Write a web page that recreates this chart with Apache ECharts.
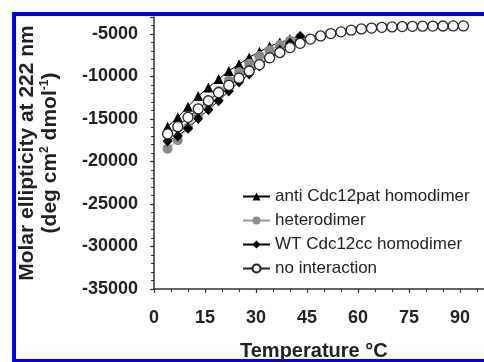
<!DOCTYPE html>
<html>
<head>
<meta charset="utf-8">
<script src="https://cdn.jsdelivr.net/npm/echarts@6/dist/echarts.min.js"></script>
<style>
  html, body { margin: 0; padding: 0; background: #fff; }
  #chart { width: 484px; height: 362px; }
</style>
</head>
<body>
<div id="chart"></div>
<script>
// temperatures (°C), one point every 3 degrees
const temps = [4, 7, 10, 13, 16, 19, 22, 25, 28, 31, 34, 37, 40, 43, 46, 49, 52, 55, 58, 61, 64, 67, 70, 73, 76, 79, 82, 85, 88, 91];

// molar ellipticity values
const antiPat = [-15900, -14800, -13550, -12300, -11300, -10300, -9350, -8550, -7750, -7100, -6450, -6000, -5600, -5250];
const hetero = [-18500, -17500, -16000, -14500, -13100, -11700, -10500, -9500, -8500, -7600, -6900, -6300, -5800, -5400];
const wtCc = [-17600, -17000, -16100, -14950, -13900, -12850, -11700, -10650, -9700, -8750, -7700, -6900, -6100, -5300];
const noInteraction = [-16750, -15900, -14800, -13800, -12850, -11900, -11050, -10200, -9350, -8600, -7800, -7180, -6600, -6100, -5600,
  -5230, -4950, -4750, -4550, -4400, -4300, -4220, -4170, -4130, -4100, -4080, -4070, -4060, -4050, -4050];

const seriesNames = ['anti Cdc12pat homodimer', 'heterodimer', 'WT Cdc12cc homodimer', 'no interaction'];

const pairs = (vals) => vals.map((v, i) => [temps[i], v]);

const font = 'Liberation Sans, Arial, sans-serif';
const ink = '#222';

const chart = echarts.init(document.getElementById('chart'), null, { renderer: 'canvas' });

chart.setOption({
  animation: false,
  backgroundColor: '#fff',
  grid: { left: 154, top: 17, bottom: 73, right: -27, containLabel: false, outerBoundsMode: 'none' },
  xAxis: {
    type: 'value',
    min: 0,
    max: 105,
    interval: 15,
    axisLine: { lineStyle: { color: '#333', width: 1.5 } },
    axisTick: { show: true, length: 4, lineStyle: { color: '#333', width: 1.2 } },
    minorTick: { show: true, splitNumber: 3, length: 3, lineStyle: { color: '#333', width: 1 } },
    splitLine: { show: false },
    axisLabel: {
      margin: 20, fontSize: 18, fontWeight: 'bold', color: ink, fontFamily: font,
      formatter: (v) => (v > 90 ? '' : String(v))
    }
  },
  yAxis: {
    type: 'value',
    min: -35000,
    max: -3000,
    interval: 5000,
    axisLine: { show: true, lineStyle: { color: '#333', width: 1.5 } },
    axisTick: { show: true, length: 4, lineStyle: { color: '#333', width: 1.2 } },
    minorTick: { show: true, splitNumber: 5, length: 3, lineStyle: { color: '#333', width: 1 } },
    splitLine: { show: false },
    axisLabel: {
      margin: 16, fontSize: 18, fontWeight: 'bold', color: ink, fontFamily: font, showMaxLabel: false,
      formatter: (v) => String(v)
    },
    name: 'Molar ellipticity at 222 nm\n(deg cm{s|2} dmol{s|-1})',
    nameLocation: 'middle',
    nameGap: 92,
    nameTextStyle: {
      fontSize: 21, fontWeight: 'bold', color: ink, fontFamily: font, lineHeight: 23,
      rich: { s: { fontSize: 12, fontWeight: 'bold', color: ink, fontFamily: font, verticalAlign: 'top', lineHeight: 23 } }
    }
  },
  legend: {
    orient: 'vertical',
    left: 242,
    top: 188,
    padding: 0,
    itemWidth: 27,
    itemHeight: 10,
    itemGap: 7,
    textStyle: { fontSize: 17, color: ink, fontFamily: font, lineHeight: 17 },
    data: seriesNames
  },
  graphic: [
    { type: 'rect', shape: { x: 12, y: 12, width: 4, height: 350 }, style: { fill: '#0000f0' } },
    { type: 'rect', shape: { x: 12, y: 12, width: 472, height: 4 }, style: { fill: '#0000f0' } },
    { type: 'rect', shape: { x: 12, y: 359, width: 472, height: 3 }, style: { fill: '#0000f0' } },
    {
      type: 'text', left: 240, top: 341,
      style: { text: 'Temperature °C', fontSize: 20, fontWeight: 'bold', fill: ink, fontFamily: font }
    }
  ],
  series: [
    {
      name: seriesNames[0], type: 'line', data: pairs(antiPat),
      symbol: 'triangle', symbolSize: 10,
      itemStyle: { color: '#000' }, lineStyle: { color: '#000', width: 1 }
    },
    {
      name: seriesNames[1], type: 'line', data: pairs(hetero),
      symbol: 'circle', symbolSize: 10,
      itemStyle: { color: '#8a8a8a' }, lineStyle: { color: '#999', width: 1 }
    },
    {
      name: seriesNames[2], type: 'line', data: pairs(wtCc),
      symbol: 'diamond', symbolSize: [10, 11],
      itemStyle: { color: '#000' }, lineStyle: { color: '#000', width: 1 }
    },
    {
      name: seriesNames[3], type: 'line', data: pairs(noInteraction),
      symbol: 'circle', symbolSize: 10,
      itemStyle: { color: '#fff', borderColor: '#222', borderWidth: 1.3 }, lineStyle: { color: '#222', width: 1 }
    }
  ]
});
</script>
</body>
</html>
